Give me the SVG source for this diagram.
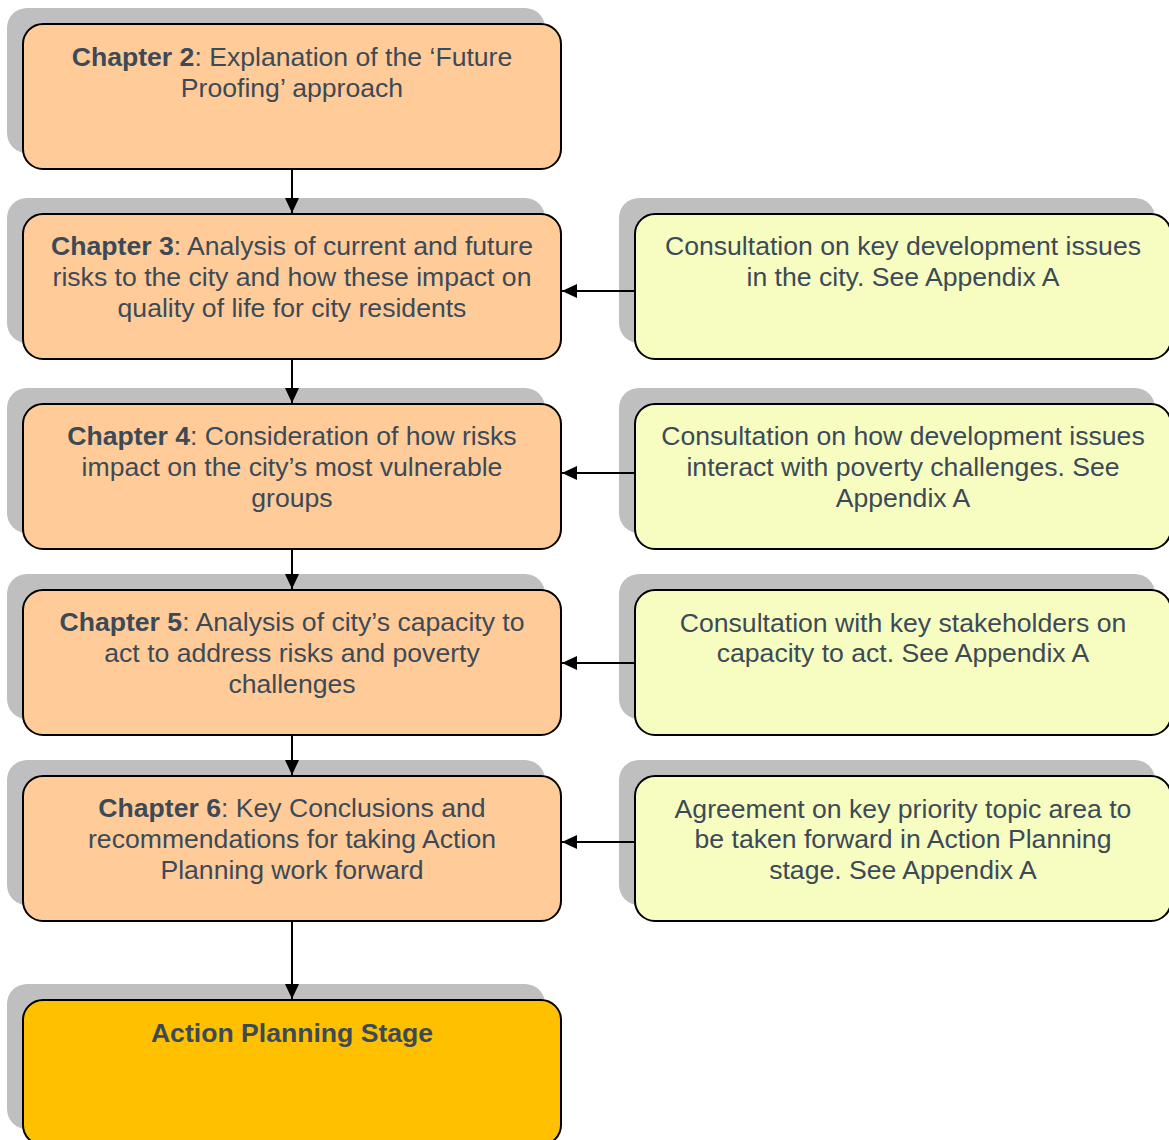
<svg xmlns="http://www.w3.org/2000/svg" width="1169" height="1140" viewBox="0 0 1169 1140">
<style>
.sh{fill:#BFBFBF;}
.b{stroke:#000;stroke-width:2;}
.ch{fill:#FFCC99;}
.co{fill:#F7FDC0;}
.ap{fill:#FFC000;}
text{font-family:"Liberation Sans",Arial,sans-serif;font-size:26.6px;fill:#3C4A57;text-anchor:middle;}
.bd{font-weight:bold;}
.ln{stroke:#000;stroke-width:2;fill:none;}
</style>
<defs>
<marker id="ah" viewBox="0 0 15 14" refX="15" refY="7" markerWidth="15" markerHeight="14" markerUnits="userSpaceOnUse" orient="auto">
<path d="M0,0 L15,7 L0,14 Z" fill="#000"/>
</marker>
</defs>
<rect width="1169" height="1140" fill="#fff"/>
<g id="ch2">
<rect class="sh" x="7" y="8" width="538" height="145" rx="20"/>
<rect class="b ch" x="23" y="24" width="538" height="145" rx="20"/>
<text x="292" y="66"><tspan class="bd">Chapter 2</tspan>: Explanation of the ‘Future</text>
<text x="292" y="97">Proofing’ approach</text>
</g>
<g id="ch3">
<rect class="sh" x="7" y="198" width="538" height="145" rx="20"/>
<rect class="b ch" x="23" y="214" width="538" height="145" rx="20"/>
<text x="292" y="255"><tspan class="bd">Chapter 3</tspan>: Analysis of current and future</text>
<text x="292" y="286">risks to the city and how these impact on</text>
<text x="292" y="317">quality of life for city residents</text>
</g>
<g id="con1">
<rect class="sh" x="619" y="198" width="536" height="145" rx="20"/>
<rect class="b co" x="635" y="214" width="536" height="145" rx="20"/>
<text x="903" y="255">Consultation on key development issues</text>
<text x="903" y="286">in the city. See Appendix A</text>
</g>
<g id="ch4">
<rect class="sh" x="7" y="388" width="538" height="145" rx="20"/>
<rect class="b ch" x="23" y="404" width="538" height="145" rx="20"/>
<text x="292" y="445"><tspan class="bd">Chapter 4</tspan>: Consideration of how risks</text>
<text x="292" y="476">impact on the city’s most vulnerable</text>
<text x="292" y="507">groups</text>
</g>
<g id="con2">
<rect class="sh" x="619" y="388" width="536" height="145" rx="20"/>
<rect class="b co" x="635" y="404" width="536" height="145" rx="20"/>
<text x="903" y="445">Consultation on how development issues</text>
<text x="903" y="476">interact with poverty challenges. See</text>
<text x="903" y="507">Appendix A</text>
</g>
<g id="ch5">
<rect class="sh" x="7" y="574" width="538" height="145" rx="20"/>
<rect class="b ch" x="23" y="590" width="538" height="145" rx="20"/>
<text x="292" y="631"><tspan class="bd">Chapter 5</tspan>: Analysis of city’s capacity to</text>
<text x="292" y="662">act to address risks and poverty</text>
<text x="292" y="693">challenges</text>
</g>
<g id="con3">
<rect class="sh" x="619" y="574" width="536" height="145" rx="20"/>
<rect class="b co" x="635" y="590" width="536" height="145" rx="20"/>
<text x="903" y="632">Consultation with key stakeholders on</text>
<text x="903" y="662">capacity to act. See Appendix A</text>
</g>
<g id="ch6">
<rect class="sh" x="7" y="760" width="538" height="145" rx="20"/>
<rect class="b ch" x="23" y="776" width="538" height="145" rx="20"/>
<text x="292" y="817"><tspan class="bd">Chapter 6</tspan>: Key Conclusions and</text>
<text x="292" y="848">recommendations for taking Action</text>
<text x="292" y="879">Planning work forward</text>
</g>
<g id="con4">
<rect class="sh" x="619" y="760" width="536" height="145" rx="20"/>
<rect class="b co" x="635" y="776" width="536" height="145" rx="20"/>
<text x="903" y="818">Agreement on key priority topic area to</text>
<text x="903" y="848">be taken forward in Action Planning</text>
<text x="903" y="879">stage. See Appendix A</text>
</g>
<g id="action">
<rect class="sh" x="7" y="984" width="538" height="145" rx="20"/>
<rect class="b ap" x="23" y="1000" width="538" height="145" rx="20"/>
<text class="bd" x="292" y="1042">Action Planning Stage</text>
</g>
<g id="connectors">
<line class="ln" x1="292" y1="170" x2="292" y2="213" marker-end="url(#ah)"/>
<line class="ln" x1="292" y1="360" x2="292" y2="403" marker-end="url(#ah)"/>
<line class="ln" x1="292" y1="550" x2="292" y2="589" marker-end="url(#ah)"/>
<line class="ln" x1="292" y1="736" x2="292" y2="775" marker-end="url(#ah)"/>
<line class="ln" x1="292" y1="922" x2="292" y2="999" marker-end="url(#ah)"/>
<line class="ln" x1="635" y1="291" x2="562" y2="291" marker-end="url(#ah)"/>
<line class="ln" x1="635" y1="473" x2="562" y2="473" marker-end="url(#ah)"/>
<line class="ln" x1="635" y1="663" x2="562" y2="663" marker-end="url(#ah)"/>
<line class="ln" x1="635" y1="842" x2="562" y2="842" marker-end="url(#ah)"/>
</g>
</svg>
